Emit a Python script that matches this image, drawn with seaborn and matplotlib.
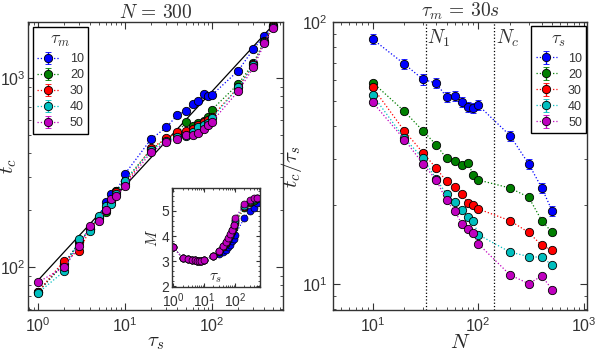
import numpy as np
import pandas as pd
import matplotlib
matplotlib.use("Agg")
import matplotlib.pyplot as plt
import seaborn as sns

# ---- data: left panel, N = 300 ----
TAU_S = [1, 2, 3, 4, 5, 6, 7, 8, 10, 20, 30, 40, 50, 60, 70, 80, 90, 100, 200, 300, 400, 500]
TAU_M = [10, 20, 30, 40, 50]
TC_10 = [74, 105, 135, 160, 185, 220, 244, 252, 311, 476, 549, 638, 671, 729, 758, 822, 800, 814, 1093, 1426, 1672, 1880]
TC_20 = [74, 104, 135, 160, 183, 195, 225, 254, 287, 420, 476, 505, 588, 560, 577, 590, 626, 681, 929, 1200, 1577, 1904]
TC_30 = [74, 108, 122, 160, 180, 200, 225, 251, 275, 426, 479, 516, 527, 540, 565, 588, 600, 626, 892, 1180, 1560, 1880]
TC_40 = [73, 95, 141, 155, 187, 210, 216, 245, 287, 415, 466, 485, 496, 520, 549, 565, 580, 614, 892, 1170, 1550, 1870]
TC_50 = [83, 100, 130, 166, 176, 201, 229, 239, 270, 407, 457, 476, 500, 500, 511, 537, 565, 588, 851, 1138, 1524, 1850]
TC_REL_ERR = 0.015

# inset: M vs tau_s
M_LOW = [3.55, 3.12, 3.08, 3.05, 3.03, 3.02, 3.02, 3.02, 3.05]
M_10 = M_LOW + [3.2, 3.3, 3.35, 3.45, 3.55, 3.65, 3.8, 3.9, 4.05, 4.7, 5.0, 5.1, 5.3]
M_20 = M_LOW + [3.2, 3.38, 3.55, 3.7, 3.85, 4.0, 4.15, 4.3, 4.5, 5.1, 5.3, 5.4, 5.45]
M_30 = M_LOW + [3.2, 3.4, 3.58, 3.72, 3.88, 4.02, 4.2, 4.38, 4.6, 5.15, 5.35, 5.45, 5.5]
M_40 = M_LOW + [3.2, 3.4, 3.6, 3.75, 3.9, 4.05, 4.22, 4.42, 4.65, 5.2, 5.38, 5.48, 5.5]
M_50 = M_LOW + [3.2, 3.42, 3.62, 3.78, 3.92, 4.08, 4.25, 4.45, 4.72, 5.25, 5.42, 5.5, 5.52]

# reference line t_c = A * tau_s^B
FIT_A = 85
FIT_B = 0.5
FIT_RANGE = [1, 560]

# ---- data: right panel, tau_m = 30 s ----
N_VALUES = [10, 20, 30, 40, 50, 60, 70, 80, 90, 100, 200, 300, 400, 500]
TAU_S_R = [10, 20, 30, 40, 50]
R_10 = [85.9, 69.0, 60.3, 58.4, 51.6, 52.2, 49.4, 47.3, 47.0, 48.1, 36.8, 28.7, 23.2, 19.0]
R_20 = [58.7, 45.5, 38.3, 33.9, 30.1, 29.3, 28.3, 28.8, 26.0, 24.9, 23.2, 21.4, 17.4, 15.7]
R_30 = [56.2, 38.3, 31.6, 27.6, 24.6, 23.4, 22.0, 20.4, 19.9, 19.3, 17.4, 15.7, 14.0, 13.4]
R_40 = [52.5, 35.9, 30.1, 25.1, 22.0, 20.5, 19.2, 17.9, 17.3, 15.4, 13.2, 12.7, 12.6, 11.8]
R_50 = [49.3, 35.5, 28.7, 24.9, 20.8, 18.9, 16.9, 16.2, 15.6, 14.2, 10.8, 10.0, 10.7, 9.5]
R_REL_ERR = [0.045, 0.02, 0.02, 0.02, 0.02]
N_1 = 32
N_C = 142

COLORS = ["#0000ff", "#007f00", "#ff0000", "#00bfbf", "#bf00bf"]

sns.set_style("ticks")
plt.rcParams["font.family"] = ["Liberation Sans", "DejaVu Sans"]
plt.rcParams.update({
    "mathtext.fontset": "cm",
    "xtick.direction": "in",
    "ytick.direction": "in",
    "xtick.top": True,
    "ytick.right": True,
    "xtick.minor.visible": True,
    "ytick.minor.visible": True,
    "xtick.major.size": 5,
    "ytick.major.size": 5,
    "xtick.minor.size": 2.5,
    "ytick.minor.size": 2.5,
    "axes.edgecolor": "#333333",
    "axes.linewidth": 1.0,
    "xtick.labelsize": 11.5,
    "ytick.labelsize": 11.5,
    "xtick.color": "#333333",
    "ytick.color": "#333333",
    "text.color": "#333333",
})


def series_plot(ax, x, ys, labels, rel_errs, title, **legend_kw):
    for y, lab, col, err in zip(ys, labels, COLORS, rel_errs):
        y = np.asarray(y, dtype=float)
        ax.errorbar(x, y, yerr=y * err, fmt="o", ls=":", lw=0.9, color=col,
                    ms=6, mec="black", mew=0.6, ecolor=col, elinewidth=1,
                    capsize=2, label=str(lab), zorder=3)
    leg = ax.legend(title=title, fontsize=9, title_fontsize=13,
                    fancybox=False, framealpha=1, edgecolor="black",
                    handlelength=1.7, handletextpad=0.9, borderpad=0.35,
                    labelspacing=0.32, **legend_kw)
    leg.get_frame().set_linewidth(1.0)
    return leg


fig = plt.figure(figsize=(6.01, 3.52), dpi=100)
ax1 = fig.add_axes([0.0466, 0.118, 0.4243, 0.8196])
ax2 = fig.add_axes([0.554, 0.118, 0.4226, 0.8196])

# left panel
ax1.set_xscale("log")
ax1.set_yscale("log")
fit_x = np.array(FIT_RANGE, dtype=float)
ax1.plot(fit_x, FIT_A * fit_x ** FIT_B, color="black", lw=0.9, zorder=2)
series_plot(ax1, TAU_S, [TC_10, TC_20, TC_30, TC_40, TC_50], TAU_M,
            [TC_REL_ERR] * 5, r"$\tau_m$", loc="upper left", borderaxespad=0.4)
ax1.set_xlim(0.77, 655)
ax1.set_ylim(59, 1980)
ax1.set_title(r"$N\,=\,300$", fontsize=14, pad=3)
ax1.set_xlabel(r"$\tau_s$", fontsize=15, labelpad=-1)
ax1.set_ylabel(r"$t_c$", fontsize=15)
ax1.yaxis.set_label_coords(-0.035, 0.5)
ax1.tick_params(axis="y", pad=2)
ax1.tick_params(axis="x", pad=4)

# inset
axin = fig.add_axes([0.2857, 0.1847, 0.147, 0.281])
inset_df = pd.DataFrame({
    "tau_s": TAU_S * 5,
    "M": M_10 + M_20 + M_30 + M_40 + M_50,
    "tau_m": np.repeat(TAU_M, len(TAU_S)),
})
sns.lineplot(data=inset_df, x="tau_s", y="M", hue="tau_m", palette=COLORS,
             marker="o", linestyle=":", lw=0.8, markersize=5, markeredgecolor="black",
             markeredgewidth=0.5, legend=False, sort=False, ax=axin)
axin.set_xscale("log")
axin.set_xlim(0.88, 650)
axin.set_ylim(1.98, 5.9)
axin.set_yticks([2, 3, 4, 5])
axin.tick_params(labelsize=10, pad=2)
axin.tick_params(axis="x", pad=3)
axin.tick_params(which="major", length=3)
axin.tick_params(which="minor", length=1.5)
axin.set_xlabel(r"$\tau_s$", fontsize=11)
axin.xaxis.set_label_coords(0.5, 0.16)
axin.set_ylabel(r"$M$", fontsize=11, labelpad=1)

# right panel
ax2.set_xscale("log")
ax2.set_yscale("log")
ax2.axvline(N_1, color="black", ls=":", lw=0.9, zorder=1)
ax2.axvline(N_C, color="black", ls=":", lw=0.9, zorder=1)
ax2.text(N_1 * 1.03, 0.98, r"$N_1$", transform=ax2.get_xaxis_transform(),
         fontsize=14, va="top", ha="left")
ax2.text(N_C * 1.03, 0.98, r"$N_c$", transform=ax2.get_xaxis_transform(),
         fontsize=14, va="top", ha="left")
series_plot(ax2, N_VALUES, [R_10, R_20, R_30, R_40, R_50], TAU_S_R,
            R_REL_ERR, r"$\tau_s$", loc="upper right",
            bbox_to_anchor=(0.998, 0.985), borderaxespad=0)
ax2.set_xlim(4.2, 1070)
ax2.set_ylim(7.9, 100)
ax2.set_title(r"$\tau_m\,=\,30s$", fontsize=14, pad=3)
ax2.set_xlabel(r"$N$", fontsize=15, labelpad=-1)
ax2.set_ylabel(r"$t_c/\tau_s$", fontsize=15, labelpad=-2)
ax2.tick_params(pad=4)

fig.savefig("out.png", dpi=100)
plt.close(fig)
